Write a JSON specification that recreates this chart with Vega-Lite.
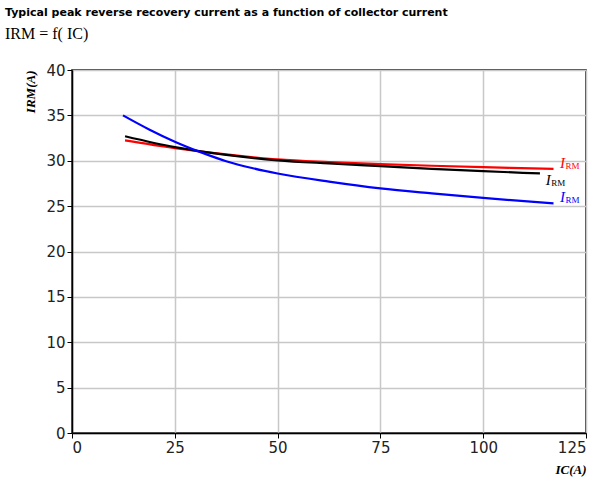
{
  "$schema": "https://vega.github.io/schema/vega-lite/v6.json",
  "width": 514,
  "height": 363,
  "autosize": {"type": "none"},
  "padding": {"left": 72, "top": 70, "right": 21, "bottom": 51},
  "background": "white",
  "title": {
    "text": "Typical peak reverse recovery current as a function of collector current",
    "subtitle": "IRM = f( IC)",
    "anchor": "start",
    "frame": "group",
    "dx": -67,
    "offset": 21,
    "font": "DejaVu Sans",
    "fontSize": 11,
    "fontWeight": "bold",
    "color": "black",
    "subtitleFont": "Liberation Serif",
    "subtitleFontSize": 16,
    "subtitleColor": "black",
    "subtitlePadding": 8
  },
  "config": {
    "view": {"stroke": "black", "strokeWidth": 1.5},
    "axis": {
      "labelFont": "DejaVu Sans",
      "labelFontSize": 15,
      "labelColor": "#222",
      "domainColor": "black",
      "domainWidth": 1.5,
      "tickColor": "black",
      "tickSize": 5,
      "gridColor": "#c8c8c8",
      "gridWidth": 1.5,
      "titleFont": "Liberation Serif",
      "titleFontSize": 13,
      "titleFontWeight": "bold",
      "titleFontStyle": "italic",
      "titleColor": "black"
    }
  },
  "datasets": {
    "curves": [
      {"series": "red", "ic": 12.9, "irm": 32.25},
      {"series": "red", "ic": 25, "irm": 31.4},
      {"series": "red", "ic": 37.5, "irm": 30.7},
      {"series": "red", "ic": 50, "irm": 30.15},
      {"series": "red", "ic": 62.5, "irm": 29.85},
      {"series": "red", "ic": 75, "irm": 29.62},
      {"series": "red", "ic": 87.5, "irm": 29.45},
      {"series": "red", "ic": 100, "irm": 29.3},
      {"series": "red", "ic": 117.1, "irm": 29.1},
      {"series": "black", "ic": 12.9, "irm": 32.7},
      {"series": "black", "ic": 25, "irm": 31.5},
      {"series": "black", "ic": 37.5, "irm": 30.65},
      {"series": "black", "ic": 50, "irm": 30.05},
      {"series": "black", "ic": 62.5, "irm": 29.7},
      {"series": "black", "ic": 75, "irm": 29.4},
      {"series": "black", "ic": 87.5, "irm": 29.1},
      {"series": "black", "ic": 100, "irm": 28.85},
      {"series": "black", "ic": 113.8, "irm": 28.6},
      {"series": "blue", "ic": 12.4, "irm": 35.0},
      {"series": "blue", "ic": 18.75, "irm": 33.45},
      {"series": "blue", "ic": 25, "irm": 32.1},
      {"series": "blue", "ic": 31.25, "irm": 30.95},
      {"series": "blue", "ic": 37.5, "irm": 29.95},
      {"series": "blue", "ic": 43.75, "irm": 29.2},
      {"series": "blue", "ic": 50, "irm": 28.6},
      {"series": "blue", "ic": 62.5, "irm": 27.7},
      {"series": "blue", "ic": 75, "irm": 26.95},
      {"series": "blue", "ic": 87.5, "irm": 26.4},
      {"series": "blue", "ic": 100, "irm": 25.9},
      {"series": "blue", "ic": 117.1, "irm": 25.3}
    ],
    "labels": [
      {"series": "red", "lx": 119.3, "ly": 29.75},
      {"series": "black", "lx": 115.8, "ly": 27.9},
      {"series": "blue", "lx": 119.3, "ly": 26.0}
    ]
  },
  "resolve": {"scale": {"x": "shared", "y": "shared"}},
  "layer": [
    {
      "data": {"name": "curves"},
      "mark": {"type": "line", "strokeWidth": 2.2, "interpolate": "monotone"},
      "encoding": {
        "x": {
          "field": "ic", "type": "quantitative",
          "scale": {"domain": [0, 125], "nice": false, "zero": false},
          "axis": {"values": [0, 25, 50, 75, 100, 125], "title": "IC(A)", "titleAnchor": "end", "titlePadding": 8, "labelPadding": 2}
        },
        "y": {
          "field": "irm", "type": "quantitative",
          "scale": {"domain": [0, 40], "nice": false, "zero": false},
          "axis": {"values": [0, 5, 10, 15, 20, 25, 30, 35, 40], "title": "IRM(A)", "titleAnchor": "end", "titlePadding": 8, "labelPadding": 2}
        },
        "color": {
          "field": "series", "type": "nominal",
          "scale": {"domain": ["red", "black", "blue"], "range": ["#ff0000", "#000000", "#0000ff"]},
          "legend": null
        },
        "detail": {"field": "series"}
      }
    },
    {
      "data": {"name": "labels"},
      "mark": {"type": "text", "font": "Liberation Serif", "fontStyle": "italic", "fontSize": 15, "align": "center", "baseline": "middle"},
      "encoding": {
        "x": {"field": "lx", "type": "quantitative", "scale": {"domain": [0, 125], "nice": false, "zero": false}},
        "y": {"field": "ly", "type": "quantitative", "scale": {"domain": [0, 40], "nice": false, "zero": false}},
        "text": {"value": "I"},
        "color": {"field": "series", "type": "nominal", "legend": null}
      }
    },
    {
      "data": {"name": "labels"},
      "mark": {"type": "text", "font": "Liberation Serif", "fontSize": 9, "align": "left", "baseline": "middle", "dx": 3, "dy": 3},
      "encoding": {
        "x": {"field": "lx", "type": "quantitative", "scale": {"domain": [0, 125], "nice": false, "zero": false}},
        "y": {"field": "ly", "type": "quantitative", "scale": {"domain": [0, 40], "nice": false, "zero": false}},
        "text": {"value": "RM"},
        "color": {"field": "series", "type": "nominal", "legend": null}
      }
    }
  ]
}
